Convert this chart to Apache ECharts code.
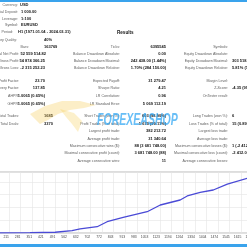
<!DOCTYPE html>
<html><head><meta charset="utf-8">
<script src="https://cdn.jsdelivr.net/npm/echarts@6/dist/echarts.min.js"></script>
<style>html,body{margin:0;padding:0;background:#fff}#c{width:247px;height:247px}</style>
</head><body><div id="c"></div>
<script>
// ---- report texts ----
const settingsLabels = ['Currency:', 'Initial Deposit:', 'Leverage:', 'Symbol:', 'Period:'];
const settingsValues = ['USD', '1 000.00', '1:100', 'EURUSD', 'H1 (1971.01.04 - 2024.03.31)'];
const resultsTitle = 'Results';
const col1Labels = ['History Quality:', 'Bars:', 'Total Net Profit:', 'Gross Profit:', 'Gross Loss:', 'Profit Factor:', 'Recovery Factor:', 'AHPR:', 'GHPR:', 'Total Trades:', 'Total Deals:'];
const col1Values = ['40%', '163769', '52 559 514.82', '54 874 366.25', '-2 315 252.23', '23.70', '137.85', '1.0065 (0.65%)', '1.0065 (0.65%)', '1685', '3370'];
const col2Labels = ['Ticks:', 'Balance Drawdown Absolute:', 'Balance Drawdown Maximal:', 'Balance Drawdown Relative:', 'Expected Payoff:', 'Sharpe Ratio:', 'LR Correlation:', 'LR Standard Error:', 'Short Trades (won %):', 'Profit Trades (% of total):', 'Largest profit trade:', 'Average profit trade:', 'Maximum consecutive wins ($):', 'Maximal consecutive profit (count):', 'Average consecutive wins:'];
const col2Values = ['6395545', '0.00', '242 438.00 (1.44%)', '1.70% (284 150.00)', '31 279.47', '4.21', '0.96', '5 069 112.19', '603 (98.90%)', '1 670 (99.11%)', '382 212.72', '31 340.64', '88 (3 681 748.00)', '3 681 748.00 (88)', '11'];
const col3Labels = ['Symbols:', 'Equity Drawdown Absolute:', 'Equity Drawdown Maximal:', 'Equity Drawdown Relative:', 'Margin Level:', 'Z-Score:', 'OnTester result:', '', 'Long Trades (won %):', 'Loss Trades (% of total):', 'Largest loss trade:', 'Average loss trade:', 'Maximum consecutive losses ($):', 'Maximal consecutive loss (count):', 'Average consecutive losses:'];
const col3Values = ['', '', '303 518.00 (1.68%)', '5.81% (16 512.00)', '', '-4.35 (99.74%)', '', '', '6', '15 (0.89%)', '', '', '1 (-2 412.00)', '-2 412.00 (1)', ''];
const watermarkText = 'FOREXEASHOP';

// ---- balance curve (trade number, balance) ----
const tradeNumbers = [0, 157, 339, 490, 592, 641, 744, 804, 901, 1046, 1125, 1245, 1288, 1366, 1445, 1530, 1651, 1685];
const balanceValues = [1000, 150000, 300000, 700000, 2200000, 3800000, 5900000, 10600000, 14700000, 20000000, 26300000, 31000000, 34800000, 38200000, 40400000, 46000000, 51400000, 52560515];
const totalTrades = 1685;
const xLabelCount = 24;

// ---- layout (positions only) ----
const settingsY = [5, 12, 19, 25, 32];
const settingsLabelX = [18, 18, 18, 18, 13];
const settingsValueX = [20, 21, 21, 21, 18];
const rowY1 = [40, 47, 54, 61, 68, 81, 88, 96, 104, 116, 124];
const col1LabelX = [17, 29, 19, 19, 19, 19, 19, 19, 19, 19, 19];
const col1ValueX = [44, 44, 46, 45, 45, 45, 45, 45, 45, 44, 44];
const col1ValueAlign = ['left', 'left', 'right', 'right', 'right', 'right', 'right', 'right', 'right', 'left', 'left'];
const rowY23 = [47, 54, 61, 68, 81, 88, 96, 104, 116, 124, 131, 139, 146, 153, 161];

const FONT = '"Liberation Sans", Arial, sans-serif';
const LABEL_C = '#606060', VALUE_C = '#151515';
const FS_L = 3.6, FS_V = 4.0;

function txt(text, x, y, align, bold, color, size) {
  return { type: 'text', x: x, y: y, silent: true, z: 10,
    style: { text: text, fill: color, align: align, verticalAlign: 'middle',
      fontSize: size || (bold ? FS_V : FS_L), fontWeight: bold ? 'bold' : 'normal', fontFamily: FONT } };
}

const g = [];
g.push({ type: 'rect', shape: { x: 0, y: 0, width: 247, height: 2 }, style: { fill: '#3aa3ec' }, z: 20 });
g.push({ type: 'rect', shape: { x: 0, y: 244, width: 247, height: 3 }, style: { fill: '#3aa3ec' }, z: 20 });
settingsLabels.forEach((l, i) => {
  g.push(txt(l, settingsLabelX[i], settingsY[i], 'right', false, LABEL_C));
  g.push(txt(settingsValues[i], settingsValueX[i], settingsY[i], 'left', true, VALUE_C));
});
g.push(txt(resultsTitle, 117, 33, 'left', true, VALUE_C, 4.6));
col1Labels.forEach((l, i) => {
  g.push(txt(l, col1LabelX[i], rowY1[i], 'right', false, LABEL_C));
  g.push(txt(col1Values[i], col1ValueX[i], rowY1[i], col1ValueAlign[i], true, VALUE_C));
});
col2Labels.forEach((l, i) => {
  g.push(txt(l, 120, rowY23[i], 'right', false, LABEL_C));
  g.push(txt(col2Values[i], 166, rowY23[i], 'right', true, VALUE_C));
});
col3Labels.forEach((l, i) => {
  if (l) g.push(txt(l, 228, rowY23[i], 'right', false, LABEL_C));
  if (col3Values[i]) g.push(txt(col3Values[i], 232, rowY23[i], 'left', true, VALUE_C));
});
// watermark logo (wings) and text
g.push({ type: 'polygon', silent: true, z: 30, shape: { points: [[30,114],[45,106],[62,101],[80,101],[96,105],[84,108],[70,110],[58,114],[48,120],[40,124]] }, style: { fill: 'rgba(245,200,70,0.3)' } });
g.push({ type: 'polygon', silent: true, z: 30, shape: { points: [[60,109],[74,113],[82,121],[78,132],[72,124],[66,117]] }, style: { fill: 'rgba(245,200,70,0.28)' } });
g.push({ type: 'text', x: 97, y: 120, scaleX: 0.62, silent: true, z: 31,
  style: { text: watermarkText, fill: 'rgba(40,162,242,0.7)', align: 'left', verticalAlign: 'middle',
    fontSize: 17, fontWeight: 'bold', fontStyle: 'italic', fontFamily: FONT } });

const chart = echarts.init(document.getElementById('c'), null, { renderer: 'canvas' });
chart.setOption({
  animation: false,
  backgroundColor: '#ffffff',
  grid: { left: -26, right: -6, top: 172, bottom: 14, outerBoundsMode: 'none', containLabel: false,
    show: true, borderColor: '#a8a8a8', borderWidth: 0.8, backgroundColor: '#fff' },
  xAxis: {
    type: 'value', min: 0, max: totalTrades, interval: totalTrades / xLabelCount,
    axisLine: { show: false }, axisTick: { show: false },
    splitLine: { show: true, lineStyle: { color: '#e4e4e4', width: 0.6 } },
    axisLabel: { fontSize: 3.4, color: '#444', margin: 2.5, align: 'right', fontFamily: FONT,
      formatter: v => String(Math.round(v)) }
  },
  yAxis: {
    type: 'value', min: 0, max: 57300000, interval: 12000000,
    axisLine: { show: false }, axisTick: { show: false }, axisLabel: { show: false },
    splitLine: { show: true, lineStyle: { color: '#e4e4e4', width: 0.6 } }
  },
  series: [{
    type: 'line', showSymbol: false, data: tradeNumbers.map((n, i) => [n, balanceValues[i]]),
    lineStyle: { color: '#4a4ad6', width: 1.3 }, z: 3
  }],
  graphic: g
});
</script></body></html>
